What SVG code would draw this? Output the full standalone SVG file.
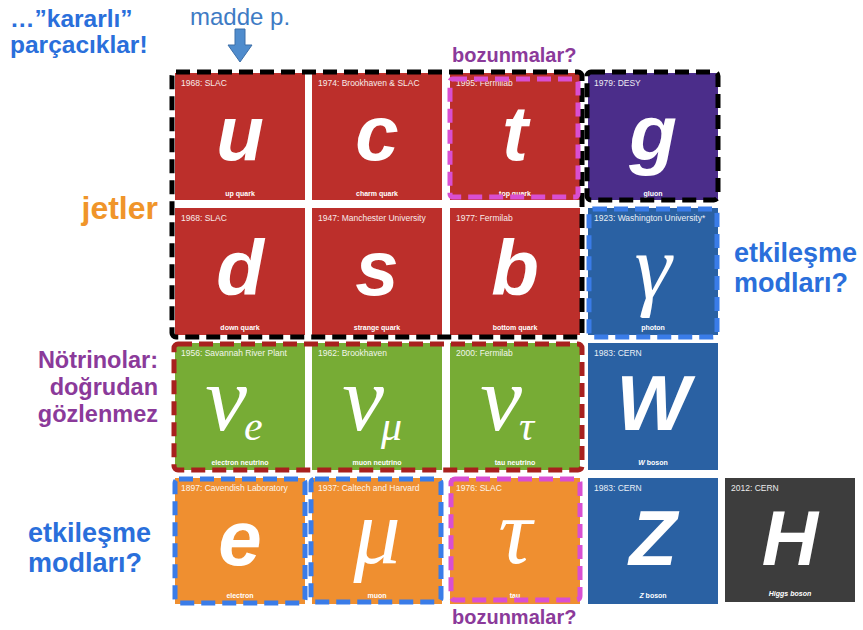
<svg xmlns="http://www.w3.org/2000/svg" width="863" height="630" viewBox="0 0 863 630">
<style>
.hd{font-family:"Liberation Sans",Arial,sans-serif;font-size:8.5px;fill:#fff;opacity:.9}
.ft{font-family:"Liberation Sans",Arial,sans-serif;font-size:7px;font-weight:bold;fill:#fff;text-anchor:middle}
.sy{font-family:"Liberation Sans",Arial,sans-serif;font-size:78px;font-weight:bold;font-style:italic;fill:#fff;text-anchor:middle}
.gr{font-family:"Liberation Serif","Times New Roman",serif;font-size:94px;font-style:italic;fill:#fff;text-anchor:middle}
.sub{font-family:"Liberation Serif","Times New Roman",serif;font-size:42px;font-style:italic;fill:#fff}
.lb{font-family:"Liberation Sans",Arial,sans-serif;font-weight:bold}
.dash{fill:none;stroke-width:5;stroke-dasharray:14 7;stroke-linejoin:round}
.red{fill:#bc2f2b}.grn{fill:#77ac35}.org{fill:#ef8f30}.blu{fill:#2a61a3}.pur{fill:#4b2d8a}.gry{fill:#3d3d3d}
</style>

<!-- labels -->
<g id="label-kararli" class="lb" fill="#2a6fdb" font-size="24.5">
<text x="10" y="27">…”kararlı”</text>
<text x="10" y="53">parçacıklar!</text>
</g>
<g id="label-madde">
<text x="190" y="25" font-family="'Liberation Sans',Arial,sans-serif" font-size="24" fill="#3e7bc4">madde p.</text>
<path d="M235,29 h10 v16 h7 l-12,17 l-12,-17 h7 z" fill="#4f8ccd" stroke="#3d6fa8" stroke-width="1"/>
</g>
<text id="label-bozunmalar-top" class="lb" x="452" y="62" font-size="20" fill="#8b3a9a">bozunmalar?</text>
<text id="label-bozunmalar-bot" class="lb" x="452" y="624" font-size="20" fill="#8b3a9a">bozunmalar?</text>
<text id="label-jetler" class="lb" x="158" y="219" font-size="32" fill="#f0952a" text-anchor="end">jetler</text>
<g id="label-notrinolar" class="lb" fill="#8b3a9a" font-size="23.5" text-anchor="end">
<text x="158" y="368">Nötrinolar:</text>
<text x="158" y="395">doğrudan</text>
<text x="158" y="422">gözlenmez</text>
</g>
<g id="label-etkilesme-left" class="lb" fill="#2a6fdb" font-size="27">
<text x="28" y="542">etkileşme</text>
<text x="28" y="572">modları?</text>
</g>
<g id="label-etkilesme-right" class="lb" fill="#2a6fdb" font-size="27">
<text x="734" y="262">etkileşme</text>
<text x="734" y="292">modları?</text>
</g>

<!-- row 1 -->
<g id="card-u"><rect class="red" x="175" y="73" width="130" height="127"/><text class="hd" x="181" y="86">1968: SLAC</text><text class="sy" x="240" y="160">u</text><text class="ft" x="240" y="196">up quark</text></g>
<g id="card-c"><rect class="red" x="312" y="73" width="130" height="127"/><text class="hd" x="318" y="86">1974: Brookhaven &amp; SLAC</text><text class="sy" x="377" y="160">c</text><text class="ft" x="377" y="196">charm quark</text></g>
<g id="card-t"><rect class="red" x="450" y="73" width="130" height="127"/><text class="hd" x="456" y="86">1995: Fermilab</text><text class="sy" x="515" y="160">t</text><text class="ft" x="515" y="196">top quark</text></g>
<g id="card-g"><rect class="pur" x="588" y="73" width="130" height="127"/><text class="hd" x="594" y="86">1979: DESY</text><text class="sy" x="653" y="160">g</text><text class="ft" x="653" y="196">gluon</text></g>
<!-- row 2 -->
<g id="card-d"><rect class="red" x="175" y="208" width="130" height="127"/><text class="hd" x="181" y="221">1968: SLAC</text><text class="sy" x="240" y="295">d</text><text class="ft" x="240" y="330">down quark</text></g>
<g id="card-s"><rect class="red" x="312" y="208" width="130" height="127"/><text class="hd" x="318" y="221">1947: Manchester University</text><text class="sy" x="377" y="295">s</text><text class="ft" x="377" y="330">strange quark</text></g>
<g id="card-b"><rect class="red" x="450" y="208" width="130" height="127"/><text class="hd" x="456" y="221">1977: Fermilab</text><text class="sy" x="515" y="295">b</text><text class="ft" x="515" y="330">bottom quark</text></g>
<g id="card-photon"><rect class="blu" x="588" y="208" width="130" height="127"/><text class="hd" x="594" y="221">1923: Washington University*</text><text class="gr" x="653" y="298">γ</text><text class="ft" x="653" y="330">photon</text></g>
<!-- row 3 -->
<g id="card-ve"><rect class="grn" x="175" y="343" width="130" height="127"/><text class="hd" x="181" y="356">1956: Savannah River Plant</text><text class="gr" x="226" y="430">ν</text><text class="sub" x="244" y="440">e</text><text class="ft" x="240" y="465">electron neutrino</text></g>
<g id="card-vmu"><rect class="grn" x="312" y="343" width="130" height="127"/><text class="hd" x="318" y="356">1962: Brookhaven</text><text class="gr" x="363" y="430">ν</text><text class="sub" x="381" y="440">μ</text><text class="ft" x="377" y="465">muon neutrino</text></g>
<g id="card-vtau"><rect class="grn" x="450" y="343" width="130" height="127"/><text class="hd" x="456" y="356">2000: Fermilab</text><text class="gr" x="501" y="430">ν</text><text class="sub" x="519" y="440">τ</text><text class="ft" x="515" y="465">tau neutrino</text></g>
<g id="card-W"><rect class="blu" x="588" y="343" width="130" height="127"/><text class="hd" x="594" y="356">1983: CERN</text><text class="sy" x="653" y="430">W</text><text class="ft" x="653" y="465"><tspan font-style="italic">W</tspan> boson</text></g>
<!-- row 4 -->
<g id="card-e"><rect class="org" x="175" y="478" width="130" height="126"/><text class="hd" x="181" y="491">1897: Cavendish Laboratory</text><text class="sy" x="240" y="565">e</text><text class="ft" x="240" y="598">electron</text></g>
<g id="card-mu"><rect class="org" x="312" y="478" width="130" height="126"/><text class="hd" x="318" y="491">1937: Caltech and Harvard</text><text class="gr" x="377" y="563">μ</text><text class="ft" x="377" y="598">muon</text></g>
<g id="card-tau"><rect class="org" x="450" y="478" width="130" height="126"/><text class="hd" x="456" y="491">1976: SLAC</text><text class="gr" x="515" y="563">τ</text><text class="ft" x="515" y="598">tau</text></g>
<g id="card-Z"><rect class="blu" x="588" y="478" width="130" height="126"/><text class="hd" x="594" y="491">1983: CERN</text><text class="sy" x="653" y="565">Z</text><text class="ft" x="653" y="598"><tspan font-style="italic">Z</tspan> boson</text></g>
<g id="card-H"><rect class="gry" x="725" y="478" width="130" height="124"/><text class="hd" x="731" y="491">2012: CERN</text><text class="sy" x="790" y="565">H</text><text class="ft" x="790" y="596" font-style="italic" font-weight="normal">Higgs boson</text></g>

<!-- dashed group outlines -->
<g id="outlines">
<rect class="dash" x="172" y="72" width="410" height="265" rx="4" stroke="#000"/>
<rect class="dash" x="587" y="72" width="131" height="128" rx="4" stroke="#000"/>
<rect class="dash" x="450" y="79" width="128" height="118" rx="3" stroke="#d94fd2"/>
<rect class="dash" x="589" y="209" width="128" height="128" rx="4" stroke="#3a7ce8"/>
<rect class="dash" x="174" y="344" width="408" height="126" rx="4" stroke="#a8201e"/>
<rect class="dash" x="175" y="479" width="130" height="124" rx="4" stroke="#3a7ce8"/>
<rect class="dash" x="311" y="479" width="130" height="123" rx="4" stroke="#3a7ce8"/>
<rect class="dash" x="451" y="479" width="129" height="121" rx="4" stroke="#d94fd2"/>
</g>
</svg>
